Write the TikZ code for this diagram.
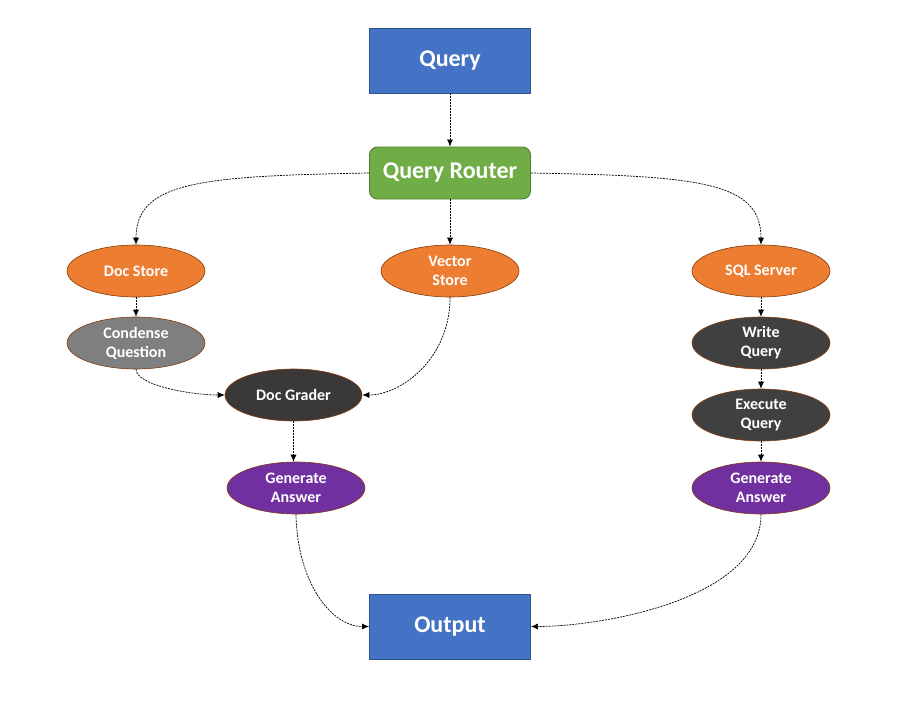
\documentclass[tikz,border=0pt]{standalone}
\usepackage{fontspec}
\setmainfont{Carlito}
\usetikzlibrary{shapes.geometric,arrows.meta}
\definecolor{qblue}{HTML}{4472C4}
\definecolor{qblueb}{HTML}{2F528F}
\definecolor{rgreen}{HTML}{70AD47}
\definecolor{rgreenb}{HTML}{507E32}
\definecolor{sorange}{HTML}{ED7D31}
\definecolor{ebrown}{HTML}{843C0C}
\definecolor{cgray}{HTML}{7F7F7F}
\definecolor{dgray}{HTML}{404040}
\definecolor{dgrader}{HTML}{3B3838}
\definecolor{gpurple}{HTML}{7030A0}
\tikzset{
  box/.style={draw=qblueb, fill=qblue, line width=0.9pt, minimum width=161pt, minimum height=65pt, inner sep=0pt, text=white, font=\bfseries\fontsize{24}{28}\selectfont},
  router/.style={draw=rgreenb, fill=rgreen, line width=0.9pt, rounded corners=8pt, minimum width=161pt, minimum height=52pt, inner sep=0pt, text=white, font=\bfseries\fontsize{24}{28}\selectfont},
  oval/.style={ellipse, draw=ebrown, line width=0.6pt, minimum width=138pt, minimum height=52pt, inner sep=0pt, text=white, align=center, font=\bfseries\fontsize{16}{19}\selectfont},
  conn/.style={draw=black, line width=0.7pt, dash pattern=on 2pt off 1pt, -{Latex[length=7pt,width=6pt]}},
}
\begin{document}
\begin{tikzpicture}[x=1pt,y=-1pt]
\useasboundingbox (0,0) rectangle (899,720);
\node[box] (query) at (450,60.5) {Query};
\node[router] (router) at (450,173) {Query Router};
\node[oval, fill=sorange] (docstore) at (136,271) {Doc Store};
\node[oval, fill=sorange] (vector) at (450,271) {Vector\\Store};
\node[oval, fill=sorange] (sql) at (761,271) {SQL Server};
\node[oval, fill=cgray] (condense) at (136,343) {Condense\\Question};
\node[oval, fill=dgrader, minimum width=137pt] (grader) at (293.5,395) {Doc Grader};
\node[oval, fill=gpurple] (genl) at (296,488) {Generate\\Answer};
\node[oval, fill=dgray] (write) at (761,343) {Write\\Query};
\node[oval, fill=dgray] (exec) at (761,415) {Execute\\Query};
\node[oval, fill=gpurple] (genr) at (761,488) {Generate\\Answer};
\node[box] (output) at (450,626.5) {Output};

\draw[conn] (query.south) -- (router.north);
\draw[conn] (router.west) .. controls (200,176) and (136,182) .. (docstore.north);
\draw[conn] (router.east) .. controls (700,176) and (761,182) .. (sql.north);
\draw[conn] (router.south) -- (vector.north);
\draw[conn] (docstore.south) -- (condense.north);
\draw[conn] (condense.south) .. controls (136,385) and (190,395) .. (grader.west);
\draw[conn] (vector.south) .. controls (450,360) and (400,395) .. (grader.east);
\draw[conn] (grader.south) -- (grader.south |- genl.north);
\draw[conn] (genl.south) .. controls (297,580) and (330,626.5) .. (output.west);
\draw[conn] (write.south) -- (exec.north);
\draw[conn] (sql.south) -- (write.north);
\draw[conn] (exec.south) -- (genr.north);
\draw[conn] (genr.south) .. controls (761,600) and (600,626.5) .. (output.east);
\end{tikzpicture}
\end{document}
